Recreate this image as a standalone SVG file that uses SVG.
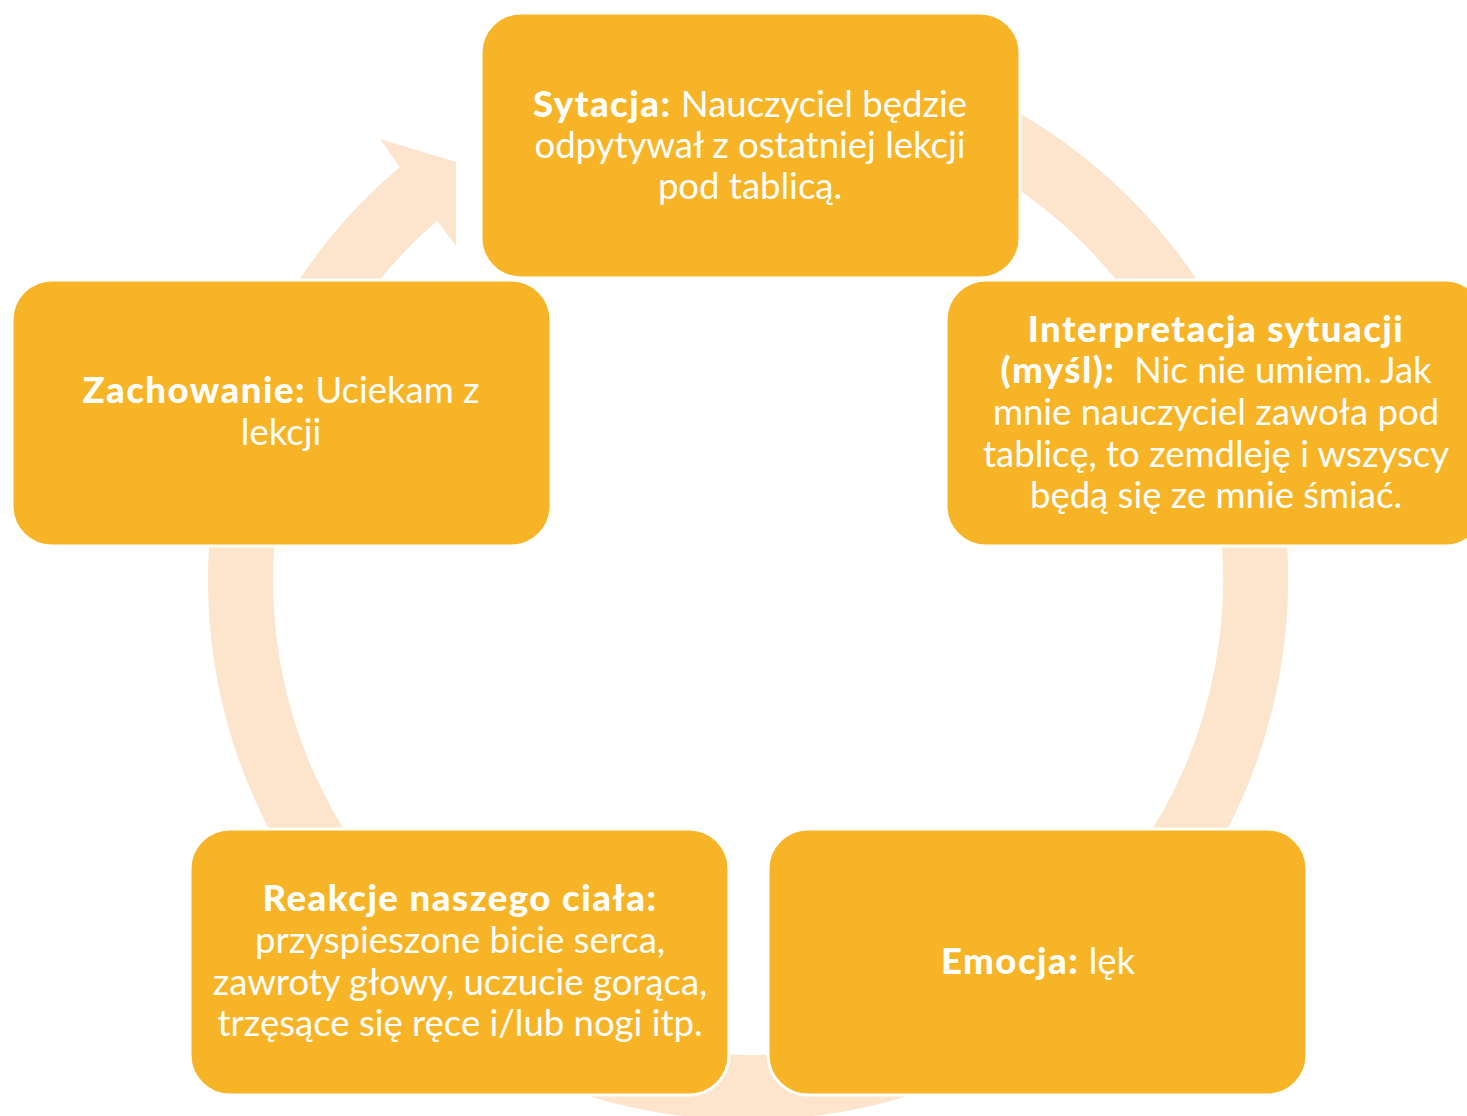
<svg xmlns="http://www.w3.org/2000/svg" width="1467" height="1116" viewBox="0 0 1467 1116">
<style>
.box{fill:#F6B426;stroke:#FFFFFF;stroke-width:3}
.t{font-family:"Lato","Liberation Sans",sans-serif;font-size:36.5px;fill:#FFFFFF;text-anchor:middle}
.b{font-weight:900;letter-spacing:1.5px}
.ring{fill:none;stroke:#FCE4CD;stroke-width:65}
</style>
<rect width="1467" height="1116" fill="#FFFFFF"/>
<g id="connectors">
<path class="ring" d="M 659.9 80.2 A 507.5 507.5 0 1 1 425.2 188.4"/>
<polygon points="399,166 380,139 456,162 456,246 436,219" fill="#FCE4CD"/>
</g>
<g id="node-sytuacja">
<rect class="box" x="481" y="13" width="539" height="265" rx="40"/>
<text class="t" x="750" y="117"><tspan class="b">Sytacja:</tspan> Nauczyciel będzie</text>
<text class="t" x="750" y="158">odpytywał z ostatniej lekcji</text>
<text class="t" x="750" y="199">pod tablicą.</text>
</g>
<g id="node-interpretacja">
<rect class="box" x="946" y="280" width="539" height="266" rx="40"/>
<text class="t b" x="1216" y="342">Interpretacja sytuacji</text>
<text class="t" x="1216" y="383" style="white-space:pre"><tspan class="b">(myśl):</tspan>  Nic nie umiem. Jak</text>
<text class="t" x="1216" y="425">mnie nauczyciel zawoła pod</text>
<text class="t" x="1216" y="467">tablicę, to zemdleję i wszyscy</text>
<text class="t" x="1216" y="508">będą się ze mnie śmiać.</text>
</g>
<g id="node-emocja">
<rect class="box" x="768" y="829" width="539" height="266" rx="40"/>
<text class="t" x="1038" y="974"><tspan class="b">Emocja:</tspan> lęk</text>
</g>
<g id="node-reakcje">
<rect class="box" x="190" y="829" width="539" height="266" rx="40"/>
<text class="t b" x="460" y="911">Reakcje naszego ciała:</text>
<text class="t" x="460" y="953">przyspieszone bicie serca,</text>
<text class="t" x="460" y="995">zawroty głowy, uczucie gorąca,</text>
<text class="t" x="460" y="1036">trzęsące się ręce i/lub nogi itp.</text>
</g>
<g id="node-zachowanie">
<rect class="box" x="12" y="280" width="539" height="266" rx="40"/>
<text class="t" x="281" y="403"><tspan class="b">Zachowanie:</tspan> Uciekam z</text>
<text class="t" x="281" y="445">lekcji</text>
</g>
</svg>
